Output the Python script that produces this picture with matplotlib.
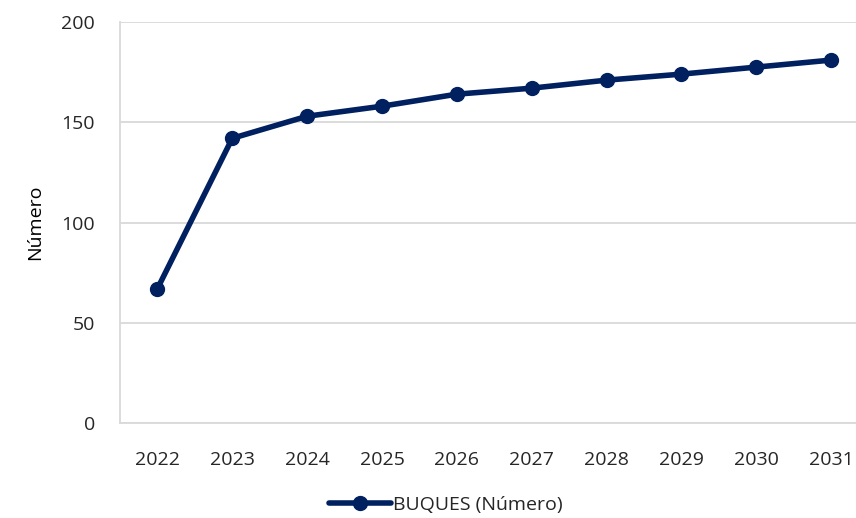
import matplotlib
matplotlib.use("Agg")
import matplotlib.pyplot as plt

years = ["2022", "2023", "2024", "2025", "2026", "2027", "2028", "2029", "2030", "2031"]
buques = [67, 142, 153, 158, 164, 167, 171, 174, 177.5, 181]
yticks = [0, 50, 100, 150, 200]

plt.rcParams['font.family'] = ['Open Sans', 'DejaVu Sans']
navy = "#002060"
grey = "#d9d9d9"

fig = plt.figure(figsize=(8.56, 5.18), dpi=100)
ax = fig.add_axes([120/856, 1-423/518, 748.5/856, 401/518])
x = list(range(len(years)))
line, = ax.plot(x, buques, color=navy, lw=4, marker='o', markersize=10,
                solid_capstyle='round', zorder=3, clip_on=False, label="BUQUES (Número)")
ax.set_xlim(-0.5, len(years) - 0.5)
ax.set_ylim(0, 200)
ax.set_yticks(yticks)
ax.set_xticks(x)
ax.set_xticklabels(years)
ax.grid(axis='y', color=grey, lw=1.3)
ax.set_axisbelow(True)
for s in ['top', 'right']:
    ax.spines[s].set_visible(False)
for s in ['left', 'bottom']:
    ax.spines[s].set_color(grey)
    ax.spines[s].set_linewidth(1.3)
ax.tick_params(length=0, labelsize=14, labelcolor='#262626')
ax.tick_params(axis='x', pad=20)
ax.tick_params(axis='y', pad=18)
ax.set_ylabel("Número", fontsize=14, color='#000000', labelpad=12)
fig.legend(handles=[line], loc='center', bbox_to_anchor=(446/856, 1-505/518),
           frameon=False, fontsize=14, handlelength=3.2, handletextpad=0.1,
           labelcolor='#262626')
fig.savefig("out.png", dpi=100)
